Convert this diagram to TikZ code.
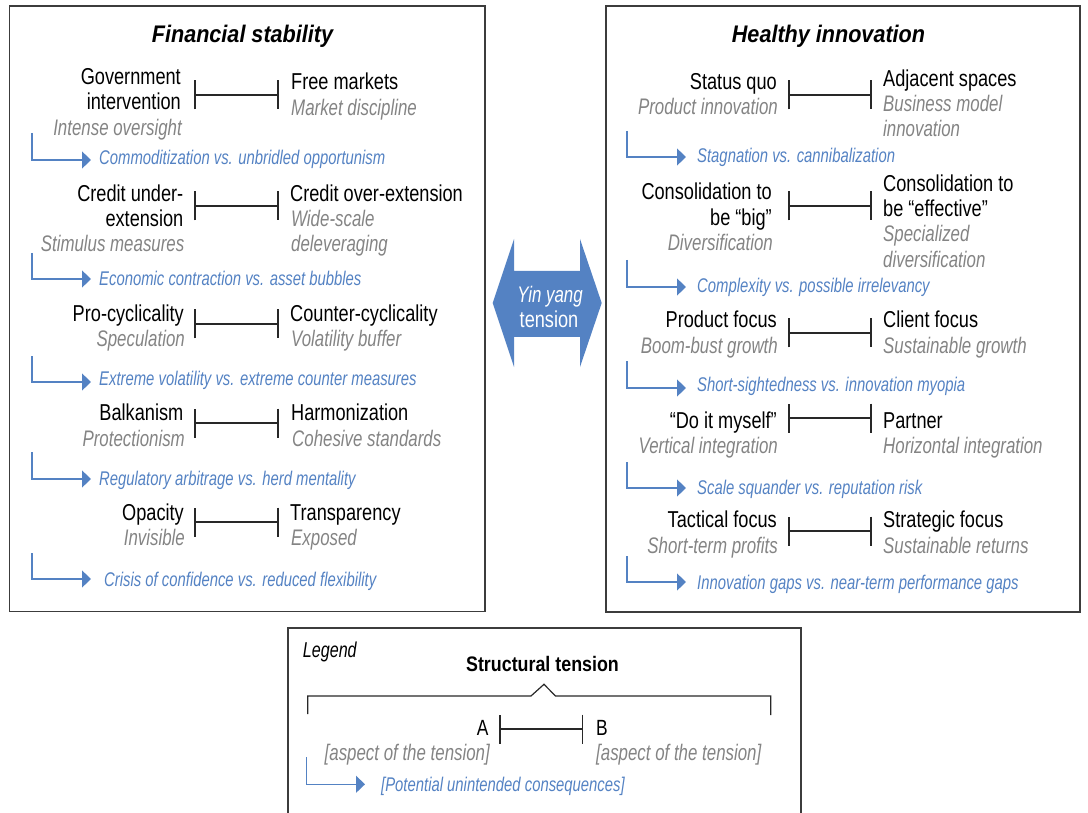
\documentclass[tikz,border=0pt]{standalone}
\usepackage{fontspec}
\setmainfont{Liberation Sans}[FakeStretch=0.79]
\newfontfamily\fit{Liberation Sans}[FakeStretch=0.75]
\newfontfamily\fbd{Liberation Sans}[FakeStretch=0.85]
\newfontfamily\fbi{Liberation Sans}[FakeStretch=0.9]
\usetikzlibrary{arrows.meta}
\definecolor{tblue}{RGB}{84,130,195}
\definecolor{tgray}{RGB}{132,132,132}
\definecolor{tframe}{RGB}{60,60,60}
\definecolor{tline}{RGB}{40,40,40}
\tikzset{
  lt/.style={anchor=base east,inner sep=0pt,font=\fontsize{23}{27}\selectfont},
  rt/.style={anchor=base west,inner sep=0pt,font=\fontsize{23}{27}\selectfont},
  lg/.style={anchor=base east,inner sep=0pt,text=tgray,font=\fit\itshape\fontsize{22.5}{26}\selectfont},
  rg/.style={anchor=base west,inner sep=0pt,text=tgray,font=\fit\itshape\fontsize{22.5}{26}\selectfont},
  cq/.style={anchor=base west,inner sep=0pt,text=tblue,font=\fit\itshape\fontsize{19.8}{23}\selectfont},
  ttl/.style={anchor=base,inner sep=0pt,font=\fbi\bfseries\itshape\fontsize{24}{28}\selectfont},
  tens/.style={draw=tline,line width=1.5pt,{Bar[width=29pt]}-{Bar[width=29pt]}},
  cqline/.style={draw=tblue,line width=1.1pt,-{Triangle[length=9pt,width=17pt]}},
  frame/.style={draw=tframe,line width=1.4pt},
}
\begin{document}
\begin{tikzpicture}[x=1pt,y=-1pt]
\useasboundingbox (0,0) rectangle (1088,813);
% frames
\draw[frame] (9.5,6) rectangle (485,611.5);
\draw[frame] (606,6) rectangle (1080,612);
\draw[frame] (288,820) -- (288,628) -- (801,628) -- (801,820);
% titles
\node[ttl] (ftitle) at (242.5,43) {Financial stability};
\node[ttl] (htitle) at (828.5,43) {Healthy innovation};

% ---------- Left panel ----------
% item 1
\node[lt] (l1a) at (181,85) {Government};
\node[lt] (l1b) at (181,110) {intervention};
\node[lg] (l1c) at (182,136) {Intense oversight};
\node[rt] (r1a) at (291,90) {Free markets};
\node[rg] (r1b) at (291,116) {Market discipline};
\coordinate (t1a) at (194.3,95); \coordinate (t1b) at (278.7,95);
\draw[tens] (t1a) -- (t1b);
\coordinate (c1a) at (32,133); \coordinate (c1b) at (91,160);
\draw[cqline] (c1a) |- (c1b);
\node[cq] (q1) at (99,165) {Commoditization vs. unbridled opportunism};
% item 2
\node[lt] (l2a) at (183.5,202) {Credit under-};
\node[lt] (l2b) at (183.5,227) {extension};
\node[lg] (l2c) at (184.5,252) {Stimulus measures};
\node[rt] (r2a) at (290,202) {Credit over-extension};
\node[rg] (r2b) at (291,227) {Wide-scale};
\node[rg] (r2c) at (291,252) {deleveraging};
\coordinate (t2a) at (194.3,206); \coordinate (t2b) at (278.7,206);
\draw[tens] (t2a) -- (t2b);
\coordinate (c2a) at (32,253); \coordinate (c2b) at (91,279);
\draw[cqline] (c2a) |- (c2b);
\node[cq] (q2) at (99,286) {Economic contraction vs. asset bubbles};
% item 3
\node[lt] (l3a) at (184,322) {Pro-cyclicality};
\node[lg] (l3b) at (185,347) {Speculation};
\node[rt] (r3a) at (290,322) {Counter-cyclicality};
\node[rg] (r3b) at (291,347) {Volatility buffer};
\coordinate (t3a) at (194.3,324); \coordinate (t3b) at (278.7,324);
\draw[tens] (t3a) -- (t3b);
\coordinate (c3a) at (32,356); \coordinate (c3b) at (91,382);
\draw[cqline] (c3a) |- (c3b);
\node[cq] (q3) at (99,385) {Extreme volatility vs. extreme counter measures};
% item 4
\node[lt] (l4a) at (183.5,420) {Balkanism};
\node[lg] (l4b) at (185,446) {Protectionism};
\node[rt] (r4a) at (291,420) {Harmonization};
\node[rg] (r4b) at (292,446) {Cohesive standards};
\coordinate (t4a) at (194.3,423); \coordinate (t4b) at (278.7,423);
\draw[tens] (t4a) -- (t4b);
\coordinate (c4a) at (32,452); \coordinate (c4b) at (91,479);
\draw[cqline] (c4a) |- (c4b);
\node[cq] (q4) at (99,485) {Regulatory arbitrage vs. herd mentality};
% item 5
\node[lt] (l5a) at (184,520) {Opacity};
\node[lg] (l5b) at (185,545) {Invisible};
\node[rt] (r5a) at (290,520) {Transparency};
\node[rg] (r5b) at (291,545) {Exposed};
\coordinate (t5a) at (194.3,522); \coordinate (t5b) at (278.7,522);
\draw[tens] (t5a) -- (t5b);
\coordinate (c5a) at (32,553); \coordinate (c5b) at (91,579);
\draw[cqline] (c5a) |- (c5b);
\node[cq] (q5) at (104,586) {Crisis of confidence vs. reduced flexibility};

% ---------- Right panel ----------
% item 1
\node[lt] (hl1a) at (777,90) {Status quo};
\node[lg] (hl1b) at (778,115) {Product innovation};
\node[rt] (hr1a) at (883,87) {Adjacent spaces};
\node[rg] (hr1b) at (883,112) {Business model};
\node[rg] (hr1c) at (883,137) {innovation};
\coordinate (h1a) at (788.3,95); \coordinate (h1b) at (871.7,95);
\draw[tens] (h1a) -- (h1b);
\coordinate (d1a) at (627,131); \coordinate (d1b) at (686,157);
\draw[cqline] (d1a) |- (d1b);
\node[cq] (p1) at (697,163) {Stagnation vs. cannibalization};
% item 2
\node[lt] (hl2a) at (772,200) {Consolidation to};
\node[lt] (hl2b) at (772,226) {be “big”};
\node[lg] (hl2c) at (773,251) {Diversification};
\node[rt] (hr2a) at (883,192) {Consolidation to};
\node[rt] (hr2b) at (883,217) {be “effective”};
\node[rg] (hr2c) at (883,242) {Specialized};
\node[rg] (hr2d) at (883,268) {diversification};
\coordinate (h2a) at (788.3,206); \coordinate (h2b) at (871.7,206);
\draw[tens] (h2a) -- (h2b);
\coordinate (d2a) at (627,260); \coordinate (d2b) at (686,287);
\draw[cqline] (d2a) |- (d2b);
\node[cq] (p2) at (697,293) {Complexity vs. possible irrelevancy};
% item 3
\node[lt] (hl3a) at (777,328) {Product focus};
\node[lg] (hl3b) at (778,354) {Boom-bust growth};
\node[rt] (hr3a) at (883,328) {Client focus};
\node[rg] (hr3b) at (883,354) {Sustainable growth};
\coordinate (h3a) at (788.3,333); \coordinate (h3b) at (871.7,333);
\draw[tens] (h3a) -- (h3b);
\coordinate (d3a) at (627,361); \coordinate (d3b) at (686,388);
\draw[cqline] (d3a) |- (d3b);
\node[cq] (p3) at (697,391) {Short-sightedness vs. innovation myopia};
% item 4
\node[lt] (hl4a) at (777,428) {“Do it myself”};
\node[lg] (hl4b) at (778,453) {Vertical integration};
\node[rt] (hr4a) at (883,428) {Partner};
\node[rg] (hr4b) at (883,453) {Horizontal integration};
\coordinate (h4a) at (788.3,418); \coordinate (h4b) at (871.7,418);
\draw[tens] (h4a) -- (h4b);
\coordinate (d4a) at (627,462); \coordinate (d4b) at (686,488);
\draw[cqline] (d4a) |- (d4b);
\node[cq] (p4) at (697,494) {Scale squander vs. reputation risk};
% item 5
\node[lt] (hl5a) at (777,527) {Tactical focus};
\node[lg] (hl5b) at (778,553) {Short-term profits};
\node[rt] (hr5a) at (883,527) {Strategic focus};
\node[rg] (hr5b) at (883,553) {Sustainable returns};
\coordinate (h5a) at (788.3,531); \coordinate (h5b) at (871.7,531);
\draw[tens] (h5a) -- (h5b);
\coordinate (d5a) at (627,556); \coordinate (d5b) at (686,582);
\draw[cqline] (d5a) |- (d5b);
\node[cq] (p5) at (697,589) {Innovation gaps vs. near-term performance gaps};

% ---------- Yin yang double arrow ----------
\fill[tblue] (492.7,303) -- (514,239) -- (514,271) -- (580,271) -- (580,239)
  -- (601.7,303) -- (580,367) -- (580,337) -- (514,337) -- (514,367) -- cycle;
\node[anchor=base,inner sep=0pt,text=white,font=\fit\itshape\fontsize{22.5}{26}\selectfont] (yy1) at (550,303) {Yin yang};
\node[anchor=base,inner sep=0pt,text=white,font=\fontsize{23}{27}\selectfont] (yy2) at (549,328) {tension};

% ---------- Legend ----------
\node[anchor=base west,inner sep=0pt,font=\fit\itshape\fontsize{21.5}{25}\selectfont] (leg) at (302.7,657) {Legend};
\node[anchor=base,inner sep=0pt,font=\fbd\bfseries\fontsize{21}{25}\selectfont] (lgt) at (542.5,671) {Structural tension};
\draw[draw=tline,line width=1.2pt] (307.7,714) -- (307.7,696) -- (531,696) -- (544,684.3) -- (555.5,696) -- (770.7,696) -- (770.7,715);
\node[lt,font=\fontsize{22}{26}\selectfont] (la) at (488.7,735) {A};
\node[rt,font=\fontsize{22}{26}\selectfont] (lb) at (596,735) {B};
\coordinate (lta) at (499.3,729); \coordinate (ltb) at (583.3,729);
\draw[tens] (lta) -- (ltb);
\node[lg] (lga) at (490,760) {[aspect of the tension]};
\node[rg] (lgb) at (596,760) {[aspect of the tension]};
\coordinate (lca) at (306.7,757); \coordinate (lcb) at (365,784.3);
\draw[cqline] (lca) |- (lcb);
\node[cq] (lq) at (381,791) {[Potential unintended consequences]};
\end{tikzpicture}
\end{document}
